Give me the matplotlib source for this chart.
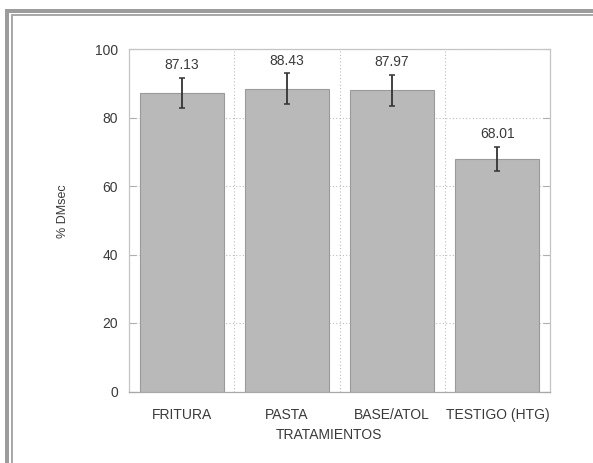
import matplotlib
matplotlib.use("Agg")
import matplotlib.pyplot as plt
from matplotlib.patches import Rectangle

# Data
categories = ["FRITURA", "PASTA", "BASE/ATOL", "TESTIGO (HTG)"]
means = [87.13, 88.43, 87.97, 68.01]
errors = [4.45, 4.5, 4.5, 3.5]
yticks = [0, 20, 40, 60, 80, 100]
ylabel = "% DMsec"
xlabel = "TRATAMIENTOS"

W, H = 593, 463
plt.rcParams["font.family"] = ["Liberation Sans", "DejaVu Sans"]
text_color = "#3a3a3a"

fig = plt.figure(figsize=(W / 100, H / 100), dpi=100)
fig.patch.set_facecolor("white")


def px_rect(x, y, w, h, color):
    # rectangle given in pixel units from the top-left corner
    fig.add_artist(Rectangle((x / W, 1 - (y + h) / H), w / W, h / H,
                             transform=fig.transFigure, facecolor=color,
                             edgecolor="none", zorder=10))


# Page frame: heavy band plus thin inner rule on the top and left sides
px_rect(5, 9, W - 5, 4, "#9c9c9c")
px_rect(5, 9, 4, H - 9, "#9c9c9c")
px_rect(11, 14, W - 11, 1.6, "#a9a9a9")
px_rect(11, 14, 1.6, H - 14, "#a9a9a9")

ax = fig.add_axes([129 / W, (H - 391.5) / H, 421 / W, 342.5 / H])
x = list(range(len(categories)))

ax.bar(x, means, width=0.8, color="#b9b9b9", edgecolor="#9a9a9a",
       linewidth=0.8, zorder=2)
ax.errorbar(x, means, yerr=errors, fmt="none", ecolor="#333333",
            elinewidth=1.3, capsize=2.3, capthick=1.1, zorder=3)

for xi, m, e in zip(x, means, errors):
    ax.annotate(f"{m:.2f}", xy=(xi, m + e), xytext=(0, 9),
                textcoords="offset points", ha="center", va="center",
                fontsize=10, color=text_color)

ax.set_xlim(-0.5, len(categories) - 0.5)
ax.set_ylim(0, 100)
ax.set_yticks(yticks)
ax.set_xticks(x)
ax.set_xticklabels(categories)
ax.set_xticks([0.5, 1.5, 2.5], minor=True)

ax.tick_params(axis="y", direction="in", length=5, width=0.8,
               color="#b0b0b0", left=True, right=True, pad=8,
               labelsize=10, labelcolor=text_color)
ax.tick_params(axis="x", which="major", length=0, pad=12,
               labelsize=10, labelcolor=text_color)
ax.tick_params(axis="x", which="minor", length=0)

ax.grid(axis="y", which="major", linestyle=(0, (1, 2)), color="#bdbdbd",
        linewidth=0.8, zorder=0)
ax.grid(axis="x", which="minor", linestyle=(0, (1, 2)), color="#bdbdbd",
        linewidth=0.8, zorder=0)
ax.grid(axis="x", which="major", visible=False)
ax.set_axisbelow(True)

for s in ax.spines.values():
    s.set_color("#c4c4c4")
    s.set_linewidth(0.9)
ax.spines["bottom"].set_color("#a8a8a8")

ax.set_ylabel(ylabel, fontsize=9, color=text_color)
ax.yaxis.set_label_coords(-0.157, 0.527)
ax.yaxis.label.set_va("center")
ax.set_xlabel(xlabel, fontsize=10, color=text_color)
ax.xaxis.set_label_coords(0.474, -0.127)
ax.xaxis.label.set_va("center")

fig.savefig("out.png", dpi=100)
